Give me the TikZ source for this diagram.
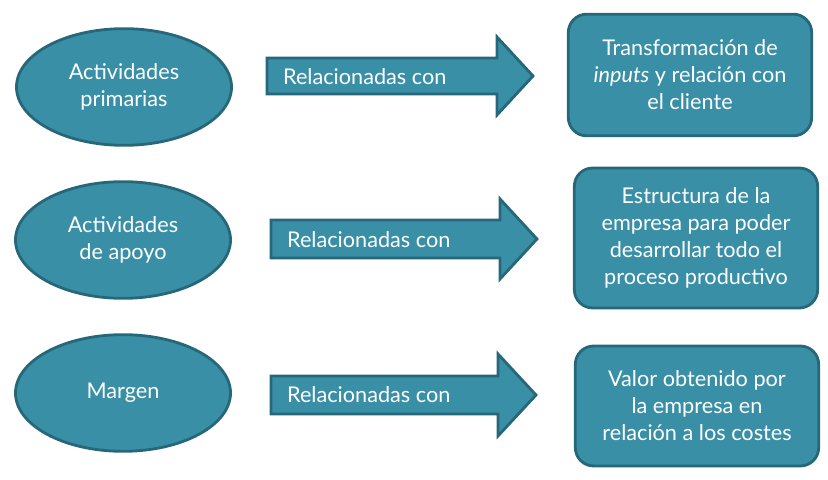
\documentclass[tikz,border=0pt]{standalone}
\usepackage{fontspec}
\setmainfont{Lato}
\usetikzlibrary{shapes.geometric}
\definecolor{tealfill}{RGB}{57,143,166}
\definecolor{tealline}{RGB}{38,104,122}
\begin{document}
\begin{tikzpicture}
	[x=0.03cm,y=-0.03cm,
	 topic/.style={ellipse,fill=tealfill,draw=tealline,line width=2.4pt,
		minimum width=6.45cm,minimum height=3.5cm,text=white,align=center,
		font=\fontsize{18.5}{23}\selectfont},
	 result/.style={rounded corners=0.55cm,fill=tealfill,draw=tealline,line width=2.4pt,
		minimum width=7.3cm,text=white,align=center,
		font=\fontsize{18.5}{23}\selectfont},
	 arrowbody/.style={fill=tealfill,draw=tealline,line width=2.4pt},
	 arrowtext/.style={anchor=west,text=white,font=\fontsize{18.5}{23}\selectfont}]
	\useasboundingbox (0,0) rectangle (828,480);
	% left column
	\node[topic] (primarias) at (124,87) {Actividades\\primarias};
	\node[topic] (apoyo) at (123,240) {Actividades\\de apoyo};
	\node[topic] (margen) at (123,393) {Margen};
	% arrows
	\filldraw[arrowbody] (267,58)--(497,58)--(497,37)--(533,76)--(497,115)--(497,94)--(267,94)--cycle;
	\node[arrowtext] (rel1) at (279,77) {Relacionadas con};
	\filldraw[arrowbody] (271,220)--(500,220)--(500,199)--(537,239)--(500,279)--(500,258)--(271,258)--cycle;
	\node[arrowtext] (rel2) at (283,240) {Relacionadas con};
	\filldraw[arrowbody] (271,376)--(498,376)--(498,354)--(536,395)--(498,436)--(498,414)--(271,414)--cycle;
	\node[arrowtext] (rel3) at (283,395) {Relacionadas con};
	% right column
	\node[result,minimum height=3.65cm] (transf) at (690,75)
		{Transformación de\\\textit{inputs} y relación con\\el cliente};
	\node[result,minimum height=4.2cm] (estructura) at (696,238)
		{Estructura de la\\empresa para poder\\desarrollar todo el\\proceso productivo};
	\node[result,minimum height=3.6cm] (valor) at (697,406)
		{Valor obtenido por\\la empresa en\\relación a los costes};
\end{tikzpicture}
\end{document}
